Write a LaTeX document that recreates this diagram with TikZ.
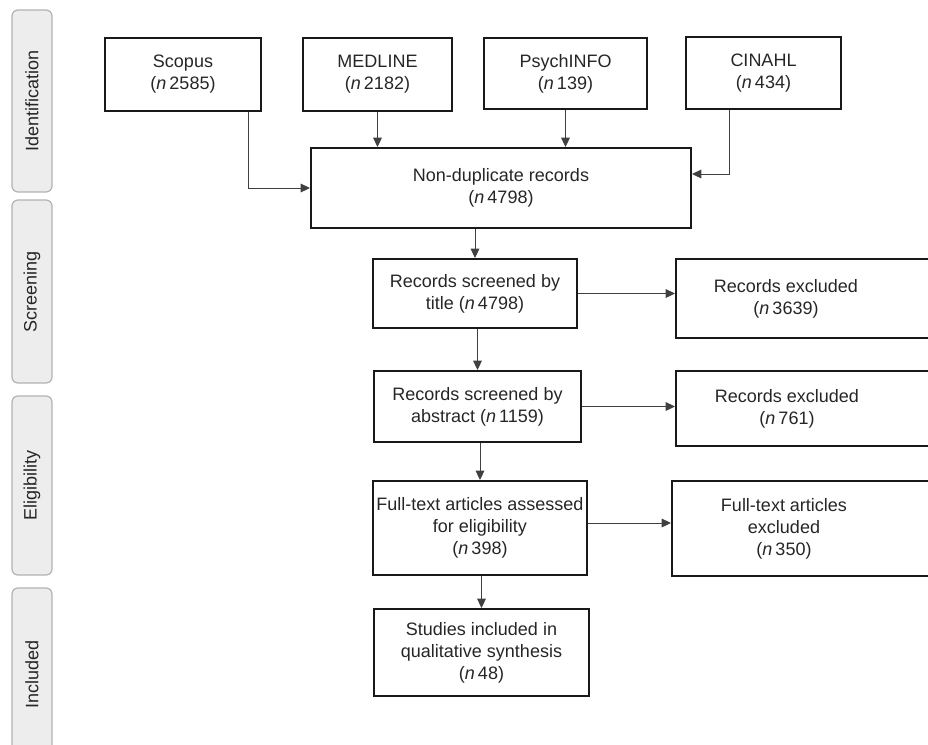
\documentclass[tikz,border=0pt]{standalone}
\usepackage{fontspec}
\setmainfont{Liberation Sans}
\usetikzlibrary{arrows.meta}
\usetikzlibrary{fit}

\begin{document}
\begin{tikzpicture}[x=0.75pt,y=-0.75pt,->,>={Triangle[length=7pt,width=6.5pt]},
                    every node/.style={font=\fontsize{13.5}{16.5}\selectfont,text=black!85},
                    db/.style={draw=black!90,line width=1.5pt,align=center,inner sep=2pt},
                    lbl/.style={align=center,inner sep=0pt},
                    phase/.style={draw=black!30,fill=black!7,line width=0.9pt,rounded corners=4.5pt,
                                  rotate=90,minimum height=30pt,inner sep=0pt},
                    flow/.style={draw=black!75,line width=0.75pt}]

  \useasboundingbox (0,0) rectangle (928,744);

  % stages down the left side
  \node[phase,minimum width=136.5pt]  (ident)  at (32,101)   {Identification};
  \node[phase,minimum width=137.25pt] (screen) at (32,291.5) {Screening};
  \node[phase,minimum width=134.25pt] (elig)   at (32,485.5) {Eligibility};
  \node[phase,minimum width=129pt]    (incl)   at (32,674)   {Included};

  % databases
  \node[db,minimum width=117pt,minimum height=54.75pt]    (scopus)  at (183,74.5)   {Scopus\\(\textit{n}\,2585)};
  \node[db,minimum width=111.75pt,minimum height=54.75pt] (medline) at (377.5,74.5) {MEDLINE\\(\textit{n}\,2182)};
  \node[db,minimum width=122.25pt,minimum height=53.25pt] (psych)   at (565.5,73.5) {PsychINFO\\(\textit{n}\,139)};
  \node[db,minimum width=116.25pt,minimum height=54pt]    (cinahl)  at (763.5,73)   {CINAHL\\(\textit{n}\,434)};

  % main chain
  \node[db,minimum width=285pt,minimum height=60pt]       (nondup)   at (501,188)    {Non-duplicate records\\(\textit{n}\,4798)};
  \node[db,minimum width=153pt,minimum height=51.75pt]    (title)    at (475,293.5)  {Records screened by\\title (\textit{n}\,4798)};
  \node[db,minimum width=155.25pt,minimum height=53.25pt] (abstract) at (477.5,406.5) {Records screened by\\abstract (\textit{n}\,1159)};
  \node[db,minimum width=160.5pt,minimum height=70.5pt]   (fulltext) at (480,528)    {Full-text articles assessed\\for eligibility\\(\textit{n}\,398)};
  \node[db,minimum width=161.25pt,minimum height=65.25pt] (studies)  at (481.5,652.5) {Studies included in\\qualitative synthesis\\(\textit{n}\,48)};

  % exclusions (right edge runs off the page)
  \node[db,inner sep=0pt,fit={(676,259) (940,338)}] (excl1) {};
  \node[lbl] (excl1txt) at (786,298.5) {Records excluded\\(\textit{n}\,3639)};
  \node[db,inner sep=0pt,fit={(676,371) (940,446)}] (excl2) {};
  \node[lbl] (excl2txt) at (787,408.5) {Records excluded\\(\textit{n}\,761)};
  \node[db,inner sep=0pt,fit={(672,481) (940,576)}] (excl3) {};
  \node[lbl] (excl3txt) at (784,528.5) {Full-text articles\\excluded\\(\textit{n}\,350)};

  \draw[flow] ([xshift=-10.5pt]scopus.south east) |- (nondup.west);
  \draw[flow] (medline) -- (medline |- nondup.north);
  \draw[flow] (psych) -- (psych |- nondup.north);
  \draw[flow] ([xshift=33pt]cinahl.south west) |- ([yshift=10.5pt]nondup.east);
  \draw[flow] (nondup.south -| title.north) -- (title.north);
  \draw[flow] (abstract.north |- title.south) -- (abstract.north);
  \draw[flow] (fulltext.north |- abstract.south) -- (fulltext.north);
  \draw[flow] (studies.north |- fulltext.south) -- (studies.north);
  \draw[flow] (title) -- (title -| excl1.west);
  \draw[flow] (abstract) -- (abstract -| excl2.west);
  \draw[flow] ([yshift=3.75pt]fulltext.east) -- ([yshift=3.75pt]fulltext.east -| excl3.west);
\end{tikzpicture}
\end{document}
